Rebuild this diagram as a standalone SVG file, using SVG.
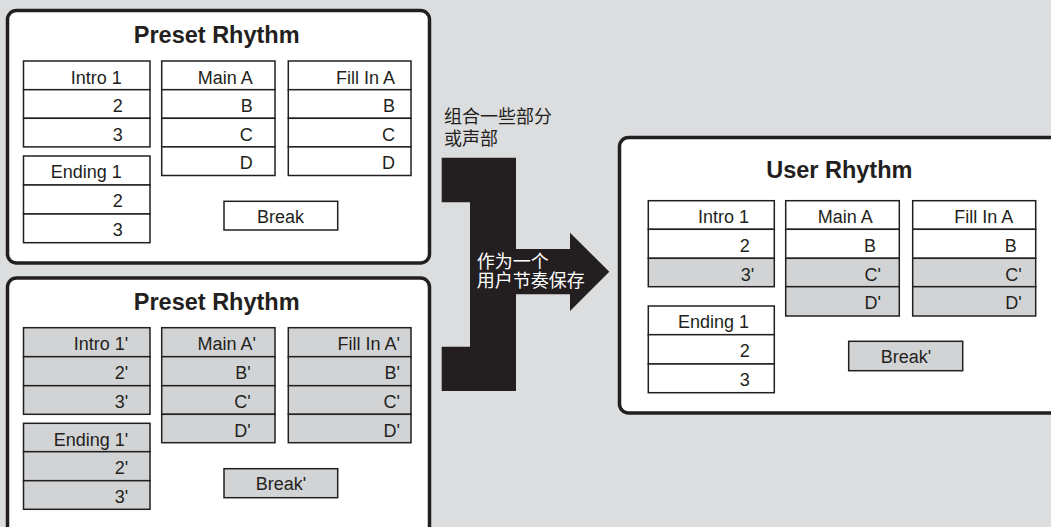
<svg xmlns="http://www.w3.org/2000/svg" width="1051" height="527" viewBox="0 0 1051 527">
<style>
.bg{fill:#dcdddf}
.panel{fill:#ffffff;stroke:#231f20;stroke-width:3.5}
.c{fill:#ffffff;stroke:#231f20;stroke-width:1.5}
.g{fill:#d1d3d4;stroke:#231f20;stroke-width:1.5}
.t{font-family:"Liberation Sans",Arial,sans-serif;font-size:18px;fill:#231f20;text-anchor:end}
.tc{font-family:"Liberation Sans",Arial,sans-serif;font-size:18px;fill:#231f20;text-anchor:middle}
.title{font-family:"Liberation Sans",Arial,sans-serif;font-size:23.5px;font-weight:bold;fill:#231f20;text-anchor:middle}
.cjk{font-family:"Liberation Sans","Noto Sans CJK SC",sans-serif;font-size:18px;fill:#231f20}
.cjkw{font-family:"Liberation Sans","Noto Sans CJK SC",sans-serif;font-size:18px;fill:#ffffff}
.arrow{fill:#231f20}
</style>
<rect class="bg" x="0" y="0" width="1051" height="527"/>

<g id="connectors">
<polygon class="arrow" points="441.7,157.7 516,157.7 516,249 570,249 570,232.7 609.3,271.7 570,311 570,294.3 516,294.3 516,391 441.7,391 441.7,346.7 470,346.7 470,202.3 441.7,202.3"/>
<text class="cjk" x="444" y="123">组合一些部分</text>
<text class="cjk" x="444" y="145">或声部</text>
<text class="cjkw" x="476.7" y="268">作为一个</text>
<text class="cjkw" x="476.7" y="286.5">用户节奏保存</text>
</g>

<g id="preset-rhythm-1">
<rect class="panel" x="7.5" y="10.5" width="422" height="252.5" rx="9"/>
<text class="title" x="216.7" y="43.3">Preset Rhythm</text>
<g id="p1-intro">
<rect class="c" x="23.5" y="61" width="126.5" height="28.7"/>
<rect class="c" x="23.5" y="89.7" width="126.5" height="28.6"/>
<rect class="c" x="23.5" y="118.3" width="126.5" height="28.6"/>
<text class="t" x="121.7" y="83.5">Intro 1</text>
<text class="t" x="122.7" y="112.2">2</text>
<text class="t" x="122.7" y="140.8">3</text>
</g>
<g id="p1-ending">
<rect class="c" x="23.5" y="156" width="126.5" height="29"/>
<rect class="c" x="23.5" y="185" width="126.5" height="29"/>
<rect class="c" x="23.5" y="214" width="126.5" height="28.7"/>
<text class="t" x="121.7" y="178.4">Ending 1</text>
<text class="t" x="122.7" y="207.2">2</text>
<text class="t" x="122.7" y="236.2">3</text>
</g>
<g id="p1-main">
<rect class="c" x="161.7" y="61" width="113.3" height="28.7"/>
<rect class="c" x="161.7" y="89.7" width="113.3" height="28.6"/>
<rect class="c" x="161.7" y="118.3" width="113.3" height="28.6"/>
<rect class="c" x="161.7" y="146.9" width="113.3" height="28.6"/>
<text class="t" x="252.7" y="83.5">Main A</text>
<text class="t" x="252.7" y="112.2">B</text>
<text class="t" x="252.7" y="140.8">C</text>
<text class="t" x="252.7" y="169.4">D</text>
</g>
<g id="p1-fill">
<rect class="c" x="288.3" y="61" width="122.7" height="28.7"/>
<rect class="c" x="288.3" y="89.7" width="122.7" height="28.6"/>
<rect class="c" x="288.3" y="118.3" width="122.7" height="28.6"/>
<rect class="c" x="288.3" y="146.9" width="122.7" height="28.6"/>
<text class="t" x="395" y="83.5">Fill In A</text>
<text class="t" x="395" y="112.2">B</text>
<text class="t" x="395" y="140.8">C</text>
<text class="t" x="395" y="169.4">D</text>
</g>
<g id="p1-break">
<rect class="c" x="224" y="201.3" width="113.7" height="28.7"/>
<text class="tc" x="280.5" y="222.8">Break</text>
</g>
</g>

<g id="preset-rhythm-2">
<rect class="panel" x="7.5" y="278" width="422" height="262" rx="9"/>
<text class="title" x="216.7" y="310">Preset Rhythm</text>
<g id="p2-intro">
<rect class="g" x="23.5" y="327.7" width="126.5" height="29"/>
<rect class="g" x="23.5" y="356.7" width="126.5" height="29"/>
<rect class="g" x="23.5" y="385.7" width="126.5" height="28.6"/>
<text class="t" x="128.3" y="350.2">Intro 1'</text>
<text class="t" x="128.3" y="379">2'</text>
<text class="t" x="128.3" y="407.8">3'</text>
</g>
<g id="p2-ending">
<rect class="g" x="23.5" y="423.3" width="126.5" height="28.4"/>
<rect class="g" x="23.5" y="451.7" width="126.5" height="29"/>
<rect class="g" x="23.5" y="480.7" width="126.5" height="28.6"/>
<text class="t" x="128.3" y="445.5">Ending 1'</text>
<text class="t" x="128.3" y="474">2'</text>
<text class="t" x="128.3" y="503">3'</text>
</g>
<g id="p2-main">
<rect class="g" x="161.7" y="327.7" width="113.3" height="29"/>
<rect class="g" x="161.7" y="356.7" width="113.3" height="29"/>
<rect class="g" x="161.7" y="385.7" width="113.3" height="28.6"/>
<rect class="g" x="161.7" y="414.3" width="113.3" height="28.4"/>
<text class="t" x="256" y="350.2">Main A'</text>
<text class="t" x="250.7" y="379">B'</text>
<text class="t" x="250.7" y="407.8">C'</text>
<text class="t" x="250.7" y="436.5">D'</text>
</g>
<g id="p2-fill">
<rect class="g" x="288.3" y="327.7" width="122.7" height="29"/>
<rect class="g" x="288.3" y="356.7" width="122.7" height="29"/>
<rect class="g" x="288.3" y="385.7" width="122.7" height="28.6"/>
<rect class="g" x="288.3" y="414.3" width="122.7" height="28.4"/>
<text class="t" x="400" y="350.2">Fill In A'</text>
<text class="t" x="400" y="379">B'</text>
<text class="t" x="400" y="407.8">C'</text>
<text class="t" x="400" y="436.5">D'</text>
</g>
<g id="p2-break">
<rect class="g" x="224" y="468.7" width="113.7" height="29"/>
<text class="tc" x="281" y="490">Break'</text>
</g>
</g>

<g id="user-rhythm">
<rect class="panel" x="619.5" y="137.5" width="500" height="275.5" rx="9"/>
<text class="title" x="839.3" y="178.3">User Rhythm</text>
<g id="u-intro">
<rect class="c" x="648.3" y="200.7" width="126" height="28.6"/>
<rect class="c" x="648.3" y="229.3" width="126" height="29"/>
<rect class="g" x="648.3" y="258.3" width="126" height="28.4"/>
<text class="t" x="749" y="223.3">Intro 1</text>
<text class="t" x="749.7" y="252">2</text>
<text class="t" x="754.3" y="280.8">3'</text>
</g>
<g id="u-ending">
<rect class="c" x="648.3" y="306" width="126" height="28.7"/>
<rect class="c" x="648.3" y="334.7" width="126" height="29.3"/>
<rect class="c" x="648.3" y="364" width="126" height="28.7"/>
<text class="t" x="749" y="328.3">Ending 1</text>
<text class="t" x="749.7" y="357.3">2</text>
<text class="t" x="749.7" y="386.3">3</text>
</g>
<g id="u-main">
<rect class="c" x="785.7" y="200.7" width="113.6" height="28.6"/>
<rect class="c" x="785.7" y="229.3" width="113.6" height="29"/>
<rect class="g" x="785.7" y="258.3" width="113.6" height="28.4"/>
<rect class="g" x="785.7" y="286.7" width="113.6" height="29.3"/>
<text class="t" x="872.7" y="223.3">Main A</text>
<text class="t" x="876" y="252">B</text>
<text class="t" x="881" y="280.8">C'</text>
<text class="t" x="881" y="309.4">D'</text>
</g>
<g id="u-fill">
<rect class="c" x="912.7" y="200.7" width="123" height="28.6"/>
<rect class="c" x="912.7" y="229.3" width="123" height="29"/>
<rect class="g" x="912.7" y="258.3" width="123" height="28.4"/>
<rect class="g" x="912.7" y="286.7" width="123" height="29.3"/>
<text class="t" x="1013.3" y="223.3">Fill In A</text>
<text class="t" x="1016.7" y="252">B</text>
<text class="t" x="1021.7" y="280.8">C'</text>
<text class="t" x="1021.7" y="309.4">D'</text>
</g>
<g id="u-break">
<rect class="g" x="848.7" y="341.3" width="114" height="29.4"/>
<text class="tc" x="906" y="362.8">Break'</text>
</g>
</g>
</svg>
